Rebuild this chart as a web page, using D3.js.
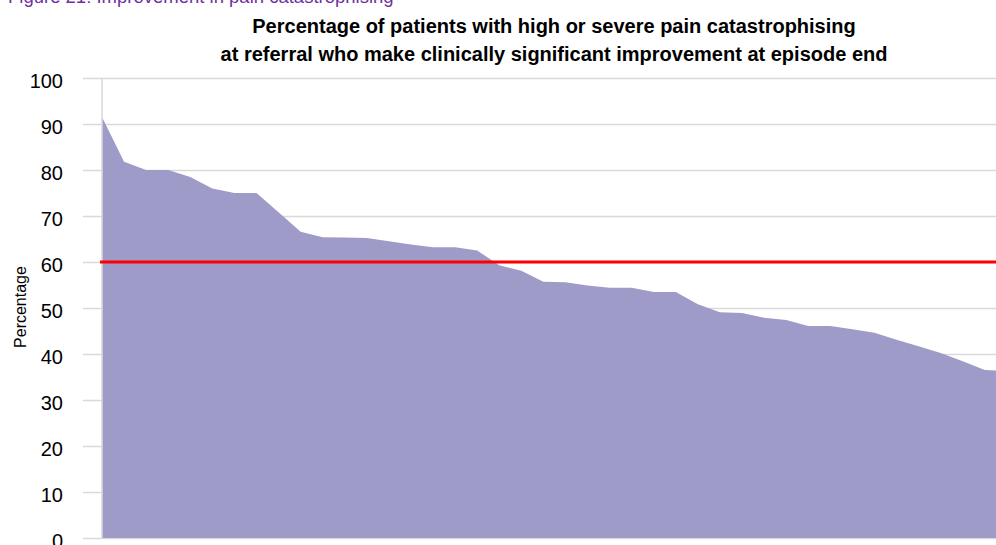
<!DOCTYPE html>
<html>
<head>
<meta charset="utf-8">
<script src="https://cdn.jsdelivr.net/npm/d3@7/dist/d3.min.js"></script>
<style>
  html, body { margin: 0; padding: 0; background: #fff; }
  svg { display: block; }
  text { font-family: "Liberation Sans", Arial, sans-serif; }
</style>
</head>
<body>
<svg id="chart" width="996" height="545"></svg>
<script>
// ---- data ----
const categories = d3.range(1, 43).map(i => "P" + i);
const values = [91.5, 81.8, 80.0, 80.0, 78.5, 76.0, 75.0, 75.0, 70.8, 66.6,
                65.4, 65.3, 65.2, 64.5, 63.8, 63.2, 63.2, 62.5, 59.3, 58.1,
                55.7, 55.6, 54.9, 54.4, 54.4, 53.5, 53.5, 50.8, 49.1, 48.9,
                47.9, 47.4, 46.1, 46.1, 45.4, 44.6, 43.1, 41.7, 40.2, 38.4,
                36.5, 36.3];
const target = 60;
const yTicks = [0, 10, 20, 30, 40, 50, 60, 70, 80, 90, 100];
const titleLines = ["Percentage of patients with high or severe pain catastrophising",
                    "at referral who make clinically significant improvement at episode end"];
const yLabel = "Percentage";
const headerText = "Figure 21: Improvement in pain catastrophising";

// ---- layout ----
const svg = d3.select("#chart");
const W = 996;
const plotLeft = 102, gridLeft = 83;
const yTop = 78, yBottom = 538;

const x = d3.scalePoint().domain(categories).range([plotLeft, plotLeft + 22.07 * (categories.length - 1)]);
const y = d3.scaleLinear().domain([0, 100]).range([yBottom, yTop]);

// clipped header text (cut off at the top)
svg.append("text")
  .attr("x", 8).attr("y", 3)
  .attr("font-size", 18.5).attr("fill", "#7030a0")
  .text(headerText);

// title
svg.append("g").selectAll("text").data(titleLines).join("text")
  .attr("x", 554)
  .attr("y", (d, i) => i === 0 ? 33 : 61)
  .attr("text-anchor", "middle")
  .attr("font-size", 20).attr("font-weight", "bold").attr("fill", "#000")
  .text(d => d);

// gridlines + tick labels
const yAxis = d3.axisLeft(y).tickValues(yTicks).tickSizeInner(-(W - gridLeft)).tickSizeOuter(0).tickPadding(20);
const gAxis = svg.append("g").attr("transform", `translate(${gridLeft},0)`).call(yAxis);
gAxis.select(".domain").remove();
gAxis.selectAll(".tick line").attr("stroke", "#d9d9d9").attr("stroke-width", 1.5);
gAxis.selectAll(".tick text").attr("font-size", 20).attr("fill", "#000").attr("dy", "0.47em")
  .attr("font-family", "Liberation Sans, Arial, sans-serif");

// area
const area = d3.area()
  .x((d, i) => x(categories[i]))
  .y0(y(0))
  .y1(d => y(d));
svg.append("path").datum(values)
  .attr("d", area)
  .attr("fill", "#9f9bc8");

// vertical axis line
svg.append("line")
  .attr("x1", plotLeft).attr("x2", plotLeft)
  .attr("y1", y(100)).attr("y2", y(0))
  .attr("stroke", "#d9d9d9").attr("stroke-width", 1.5);

// target line
svg.append("line")
  .attr("x1", plotLeft - 2).attr("x2", W)
  .attr("y1", y(target)).attr("y2", y(target))
  .attr("stroke", "#ff0000").attr("stroke-width", 3.2);

// y label
svg.append("text")
  .attr("transform", `translate(26,307) rotate(-90)`)
  .attr("text-anchor", "middle")
  .attr("font-size", 16).attr("fill", "#000")
  .text(yLabel);
</script>
</body>
</html>
